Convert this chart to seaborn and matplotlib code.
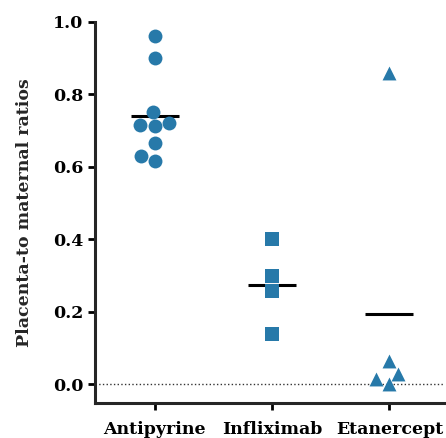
import pandas as pd
import seaborn as sns
import matplotlib.pyplot as plt

# placenta-to-maternal ratios
drugs = ['Antipyrine', 'Infliximab', 'Etanercept']
antipyrine = [0.961, 0.90, 0.752, 0.72, 0.714, 0.715, 0.667, 0.63, 0.615]
infliximab = [0.40, 0.299, 0.258, 0.138]
etanercept = [0.86, 0.064, 0.03, 0.015, 0.0]
markers = ['o', 's', '^']

df = pd.DataFrame({
    'drug': ['Antipyrine'] * len(antipyrine) + ['Infliximab'] * len(infliximab) + ['Etanercept'] * len(etanercept),
    'ratio': antipyrine + infliximab + etanercept,
})

sns.set_style('ticks')
plt.rcParams['font.family'] = ['DejaVu Serif']
plt.rcParams['font.weight'] = 'bold'

fig = plt.figure(figsize=(4.46, 4.38), dpi=100)
ax = fig.add_axes([0.213, 0.081, 0.785, 0.869])

col = '#2779a9'
for d, m in zip(drugs, markers):
    sns.swarmplot(data=df[df['drug'] == d], x='drug', y='ratio', order=drugs,
                  marker=m, color=col, size=10, ax=ax)

# mean bars
sns.pointplot(data=df, x='drug', y='ratio', order=drugs, estimator='mean',
              errorbar=None, linestyle='none', marker='_', markersize=35,
              markeredgewidth=2.2, color='black', ax=ax)

ax.axhline(0, ls=':', color='#333333', lw=1, zorder=0)

ax.set_xlim(-0.51, 2.475)
ax.set_ylim(-0.05, 1.0)
ax.set_yticks([0.0, 0.2, 0.4, 0.6, 0.8, 1.0])
ax.set_yticklabels(['0.0', '0.2', '0.4', '0.6', '0.8', '1.0'])
ax.set_xlabel('')
ax.set_ylabel('Placenta-to maternal ratios', fontsize=12.5, fontweight='bold', labelpad=14)
ax.tick_params(axis='both', width=2, length=5, labelsize=12.5, colors='black')
ax.tick_params(axis='x', pad=8)
for s in ['left', 'bottom']:
    ax.spines[s].set_linewidth(2.2)
sns.despine(ax=ax)

plt.savefig('out.png', dpi=100)
